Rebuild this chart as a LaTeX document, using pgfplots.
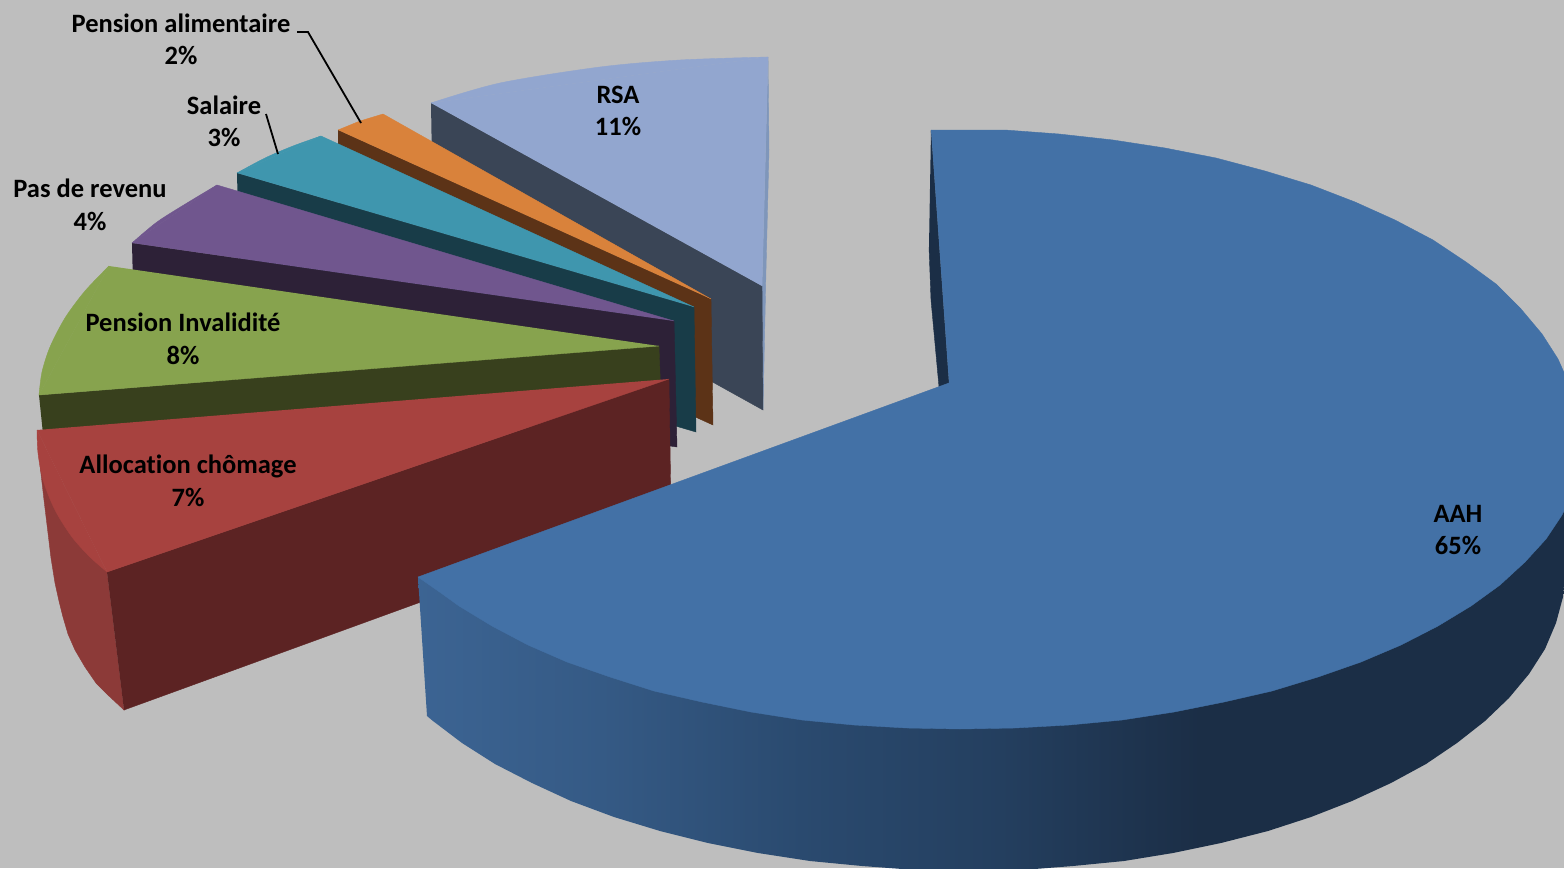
\documentclass[border=0pt]{standalone}
\usepackage{fontspec}
\setmainfont[Ligatures=CommonOff]{Carlito}
\usepackage{pgfplots}
\pgfplotsset{compat=1.18}

% Slice colours: top faces, cut walls, outer walls
\definecolor{bg}{HTML}{BEBEBE}
\definecolor{aahTop}{HTML}{4371A6}
\definecolor{aahDark}{HTML}{1B2E46}
\definecolor{rsaTop}{HTML}{92A6CF}
\definecolor{rsaWall}{HTML}{3A4556}
\definecolor{rsaEdge}{HTML}{7F96BA}
\definecolor{orTop}{HTML}{D9823B}
\definecolor{orWall}{HTML}{5C3317}
\definecolor{teTop}{HTML}{3F96AE}
\definecolor{teWall}{HTML}{183C48}
\definecolor{puTop}{HTML}{70568E}
\definecolor{puWall}{HTML}{2D2137}
\definecolor{grTop}{HTML}{87A34E}
\definecolor{grWall}{HTML}{38401D}
\definecolor{reTop}{HTML}{A7423F}
\definecolor{reWall}{HTML}{5C2323}
\definecolor{reSide}{HTML}{8C3A38}

% Outer wall of the large slice, dark towards the right
% (the filled shape spans the central 25bp to 75bp of a shading)
\pgfdeclarehorizontalshading{aahwall}{100bp}{
  rgb(0bp)=(0.235,0.392,0.576);
  rgb(25bp)=(0.235,0.392,0.576);
  rgb(32.75bp)=(0.208,0.353,0.522);
  rgb(41.4bp)=(0.165,0.290,0.435);
  rgb(49.8bp)=(0.141,0.247,0.373);
  rgb(58.35bp)=(0.106,0.180,0.275);
  rgb(100bp)=(0.105,0.180,0.275)}

\pgfplotsset{
  face/.style={draw=#1, line width=0.4pt, fill=#1, mark=none, forget plot},
  rim/.style={face=#1, smooth},
}
\tikzset{slicelabel/.style={font=\fontsize{26.5}{32.5}\selectfont\bfseries, align=center, text=black, inner sep=0pt}}

\begin{document}
\begin{tikzpicture}
\begin{axis}[
  at={(0,0)}, anchor=south west,
  scale only axis, width=1564pt, height=868pt,
  xmin=0, xmax=1564, ymin=0, ymax=868, y dir=reverse,
  hide axis, clip=true,
]
% ground
\addplot[draw=none, fill=bg, mark=none, forget plot] coordinates {(0,0)(1564,0)(1564,868)(0,868)};

% RSA, 11%
\addplot[face=rsaEdge] coordinates {(768,57)(769,150)(766,270)(763,410)(762,286)};
\addplot[face=rsaWall] coordinates {(431,103)(762,286)(763,410)(433,227)};
\addplot[rim=rsaTop] coordinates {(431,103)(500,83)(600,67)(680,60)(768,57)};
\addplot[face=rsaTop] coordinates {(431,103)(768,57)(762,286)};

% Pension alimentaire, 2%
\addplot[face=orWall] coordinates {(338,130)(711,299)(713,425)(340,256)};
\addplot[face=orTop] coordinates {(338,130)(360,121)(383,114)(711,299)};

% Salaire, 3%
\addplot[face=teWall] coordinates {(237,173)(694,307)(696,432)(240,298)};
\addplot[rim=teTop] coordinates {(237,173)(265,158)(293,146)(321,136)};
\addplot[face=teTop] coordinates {(237,173)(321,136)(694,307)};

% Pas de revenu, 4%
\addplot[face=puWall] coordinates {(132,243)(674,321)(677,447)(135,369)};
\addplot[rim=puTop] coordinates {(132,243)(157,222)(187,203)(217,185)};
\addplot[face=puTop] coordinates {(132,243)(217,185)(674,321)};

% Pension Invalidité, 8%
\addplot[face=grWall] coordinates {(39,395)(659,346)(661,400)(43,434)};
\addplot[rim=grTop] coordinates {(109,266)(85,291)(65,318)(50,347)(42,372)(39,395)};
\addplot[face=grTop] coordinates {(109,266)(39,395)(659,346)};

% Allocation chômage, 7%
\addplot[face=reSide] coordinates {(40,465)(44,500)(48,533)(51,558)(55,583)(59,601)(63,617)(68,634)(75,650)(85,667)(96,683)(109,696)(124,710)(107,572)};
\addplot[face=reWall] coordinates {(107,572)(669,379)(671,511)(124,710)};
\addplot[rim=reTop] coordinates {(37,430)(38,453)(43,480)(55,510)(72,537)(90,557)(107,572)};
\addplot[face=reTop] coordinates {(37,430)(107,572)(669,379)};

% AAH, 65%
\addplot[face=aahDark] coordinates {(931,130)(949,383)(939,387)(931,300)(929,247)};
\addplot[draw=none, mark=none, forget plot, shading=aahwall] coordinates {
  (418,577)(427,716)(433,721)(462,743)(495,764)(532,783)(571,801)(614,817)(660,831)(708,843)
  (758,853)(810,861)(862,866)(916,870)(970,871)(1022,870)(1073,866)(1124,861)(1173,853)(1221,843)
  (1268,831)(1311,817)(1352,801)(1391,783)(1426,764)(1457,743)(1485,721)(1509,698)(1529,674)
  (1545,649)(1556,623)(1563,597)(1565,571)(1590,500)(1590,440)(1000,600)};
\addplot[face=aahTop] coordinates {
  (931,130)(1005,130)(1059,134)(1113,140)(1165,148)(1216,158)(1265,171)(1311,185)(1355,202)
  (1395,220)(1433,240)(1466,262)(1496,284)(1521,309)(1542,334)(1558,359)(1570,386)(1578,413)
  (1583,440)(1581,465)(1574,490)(1562,515)(1546,539)(1525,562)(1500,585)(1471,606)(1438,626)
  (1401,645)(1361,662)(1318,677)(1272,691)(1224,702)(1174,712)(1122,720)(1069,725)(1015,728)
  (960,729)(907,728)(854,725)(802,720)(751,712)(702,702)(654,691)(610,677)(567,662)(528,645)
  (492,626)(459,606)(441,593)(418,577)(949,383)};

% leader lines
\addplot[black, line width=1.8pt, mark=none, forget plot] coordinates {(297,32)(308,32)(361,123)};
\addplot[black, line width=1.8pt, mark=none, forget plot] coordinates {(266,114)(278,154)};

% slice labels
\node[slicelabel] at (axis cs:181,39.5) {Pension alimentaire\\2\%};
\node[slicelabel] at (axis cs:224,121.5) {Salaire\\3\%};
\node[slicelabel] at (axis cs:90,205) {Pas de revenu\\4\%};
\node[slicelabel] at (axis cs:618,111) {RSA\\11\%};
\node[slicelabel] at (axis cs:183,339) {Pension Invalidité\\8\%};
\node[slicelabel] at (axis cs:188,481) {Allocation chômage\\7\%};
\node[slicelabel] at (axis cs:1458,530) {AAH\\65\%};
\end{axis}
\end{tikzpicture}
\end{document}
